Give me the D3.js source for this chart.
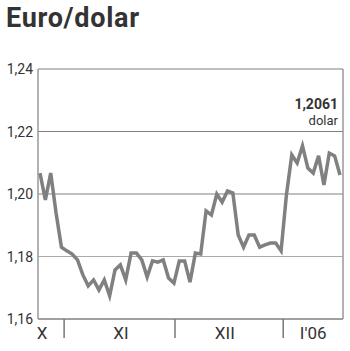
<!DOCTYPE html>
<html>
<head>
<meta charset="utf-8">
<script src="https://cdn.jsdelivr.net/npm/d3@7"></script>
<style>
  body { margin: 0; background: #fff; }
  svg { display: block; font-family: Roboto, "DejaVu Sans", sans-serif; }
</style>
</head>
<body>
<div id="chart"></div>
<script>
// daily euro/dollar rate, late Oct 2005 - mid Jan 2006
const rates = [1.2067, 1.1981, 1.2067, 1.1939, 1.1830, 1.1818, 1.1808, 1.1789, 1.1741, 1.1706,
  1.1725, 1.1693, 1.1725, 1.1674, 1.1757, 1.1773, 1.1725, 1.1811, 1.1811, 1.1789,
  1.1734, 1.1786, 1.1782, 1.1789, 1.1731, 1.1715, 1.1786, 1.1786, 1.1718, 1.1811,
  1.1808, 1.1946, 1.1933, 1.2000, 1.1974, 1.2010, 1.2003, 1.1869, 1.1830, 1.1869,
  1.1869, 1.1830, 1.1837, 1.1843, 1.1843, 1.1818, 1.1997, 1.2125, 1.2099, 1.2154,
  1.2083, 1.2067, 1.2122, 1.2029, 1.2131, 1.2122, 1.2061];
const yTicks = [1.16, 1.18, 1.20, 1.22, 1.24];
// month boundaries and label centres, in day-index units
const monthBreaks = [4.5, 25.2, 45.4];
const monthLabels = ["X", "XI", "XII", "I'06"];
const monthLabelPos = [0.4, 15.1, 34.5, 51];
const lastLabel = ["1,2061", "dolar"];

var width = 350;
var height = 351;
var margin = { top: 69, right: 7, bottom: 32, left: 38 };

var svg = d3.select("#chart").append("svg")
  .attr("width", width)
  .attr("height", height);

var x = d3.scaleLinear()
  .domain([0, rates.length - 1])
  .range([40, 340]);

var y = d3.scaleLinear()
  .domain([1.16, 1.24])
  .range([height - margin.bottom, margin.top]);

var fmt = d => d3.format(".2f")(d).replace(".", ",");

// title
svg.append("text")
  .attr("x", 6)
  .attr("y", 27)
  .text("Euro/dolar")
  .style("font-size", "27px")
  .style("font-weight", "bold")
  .style("letter-spacing", "0.7px")
  .style("fill", "#333");

// horizontal grid
svg.append("g")
  .selectAll("line")
  .data(yTicks)
  .enter()
  .append("line")
  .attr("x1", margin.left)
  .attr("x2", width - margin.right)
  .attr("y1", d => y(d))
  .attr("y2", d => y(d))
  .attr("stroke", (d, i) => i == 1 ? "#aaa" : "#808080")
  .attr("stroke-width", (d, i) => i == 0 ? 1.5 : 1.2);

// frame sides
svg.append("line")
  .attr("x1", margin.left).attr("x2", margin.left)
  .attr("y1", margin.top).attr("y2", height - margin.bottom)
  .attr("stroke", "#999").attr("stroke-width", 1.5);
svg.append("line")
  .attr("x1", width - margin.right).attr("x2", width - margin.right)
  .attr("y1", margin.top).attr("y2", height - margin.bottom)
  .attr("stroke", "#999").attr("stroke-width", 1.5);

// y labels
svg.append("g")
  .selectAll("text")
  .data(yTicks)
  .enter()
  .append("text")
  .attr("x", 33)
  .attr("y", d => y(d) + 5)
  .attr("text-anchor", "end")
  .text(fmt)
  .style("font-size", "14px")
  .style("fill", "#333");

// month ticks
svg.append("g")
  .selectAll("line")
  .data(monthBreaks)
  .enter()
  .append("line")
  .attr("x1", d => x(d)).attr("x2", d => x(d))
  .attr("y1", height - margin.bottom).attr("y2", height - margin.bottom + 19)
  .attr("stroke", "#777").attr("stroke-width", 1.5);

svg.append("g")
  .selectAll("text")
  .data(monthLabels)
  .enter()
  .append("text")
  .attr("x", (d, i) => x(monthLabelPos[i]))
  .attr("y", 339)
  .attr("text-anchor", "middle")
  .text(d => d)
  .style("font-size", "17px")
  .style("fill", "#333");

// rate line
var line = d3.line()
  .x((d, i) => x(i))
  .y(d => y(d));

svg.append("path")
  .datum(rates)
  .attr("d", line)
  .attr("fill", "none")
  .attr("stroke", "#808080")
  .attr("stroke-width", 3.5)
  .attr("stroke-linejoin", "miter");

// last value annotation
svg.append("text")
  .attr("x", 338)
  .attr("y", 109)
  .attr("text-anchor", "end")
  .text(lastLabel[0])
  .style("font-size", "14px")
  .style("font-weight", "bold")
  .style("fill", "#333");
svg.append("text")
  .attr("x", 338)
  .attr("y", 125)
  .attr("text-anchor", "end")
  .text(lastLabel[1])
  .style("font-size", "13px")
  .style("fill", "#333");
</script>
</body>
</html>
